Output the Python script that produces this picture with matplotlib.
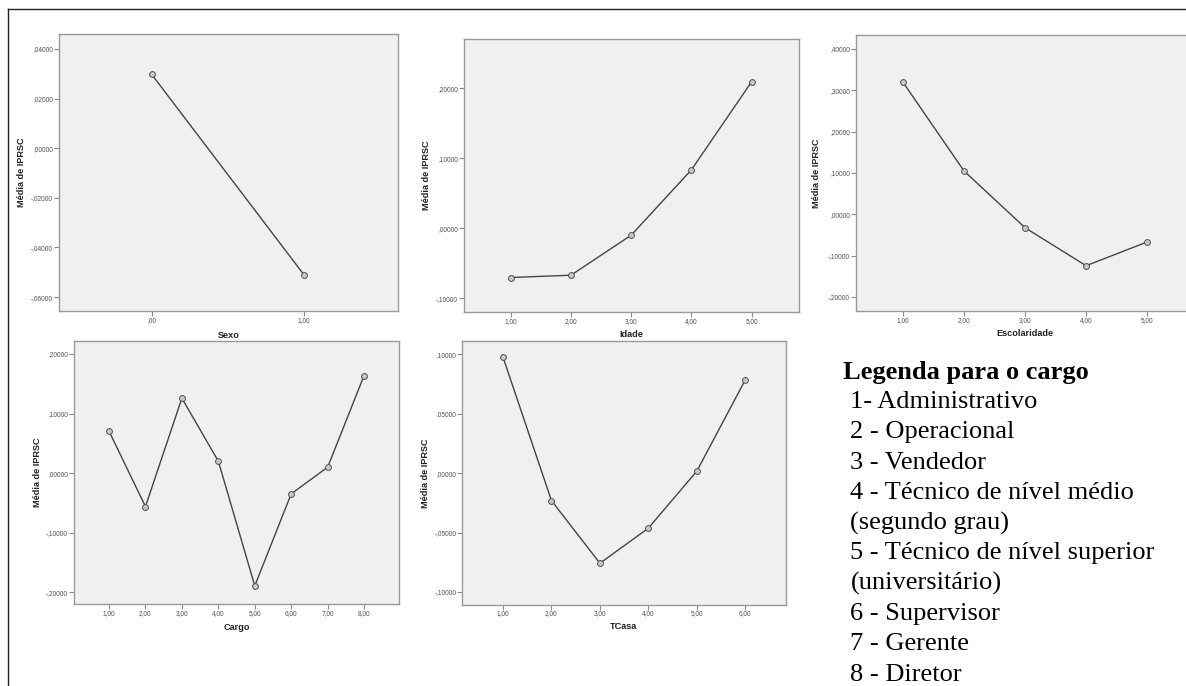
import matplotlib
matplotlib.use("Agg")
import matplotlib.pyplot as plt
from matplotlib.lines import Line2D
from matplotlib.ticker import FuncFormatter

# ---------------- data ----------------
sexo_x = [0, 1]
sexo_y = [0.0297, -0.0509]

idade_x = [1, 2, 3, 4, 5]
idade_y = [-0.0704, -0.0671, -0.0100, 0.0834, 0.2091]

escol_x = [1, 2, 3, 4, 5]
escol_y = [0.3196, 0.1048, -0.0324, -0.1244, -0.0670]

cargo_x = [1, 2, 3, 4, 5, 6, 7, 8]
cargo_y = [0.0705, -0.0560, 0.1258, 0.0201, -0.1891, -0.0347, 0.0100, 0.1638]

tcasa_x = [1, 2, 3, 4, 5, 6]
tcasa_y = [0.0976, -0.0231, -0.0758, -0.0463, 0.0017, 0.0785]

ylabel_text = "Média de IPRSC"
legend_title = "Legenda para o cargo"
legend_lines = [
    "1- Administrativo",
    "2 - Operacional",
    "3 - Vendedor",
    "4 - Técnico de nível médio",
    "(segundo grau)",
    "5 - Técnico de nível superior",
    "(universitário)",
    "6 - Supervisor",
    "7 - Gerente",
    "8 - Diretor",
]

# ---------------- figure ----------------
W, H = 1186, 686
fig = plt.figure(figsize=(W / 100, H / 100), dpi=100)
fig.patch.set_facecolor("white")

SANS = ["Liberation Sans", "DejaVu Sans"]
SERIF = ["Liberation Serif", "DejaVu Serif"]


def fx(px):
    return px / W


def fy(py):
    return 1 - py / H


def yfmt(v, pos):
    s = f"{v:.5f}"
    if s.startswith("-0."):
        s = "-," + s[3:]
    elif s.startswith("0."):
        s = "," + s[2:]
    if s == "-,00000":
        s = ",00000"
    return s


def xfmt(v, pos):
    s = f"{v:.2f}".replace(".", ",")
    if s.startswith("0,"):
        s = s[1:]
    return s


def make_panel(box, xs, ys, xlim, ylim, yticks, xlabel, ylab_x, xlab_pos):
    l, t, r, b = box
    ax = fig.add_axes([fx(l), fy(b), (r - l) / W, (b - t) / H])
    ax.set_facecolor("#f0f0f0")
    for sp in ax.spines.values():
        sp.set_color("#9a9a9a")
        sp.set_linewidth(1.0)
    ax.plot(xs, ys, color="#454545", lw=1.0, marker="o", ms=4.2,
            mfc="#c8c8c8", mec="#505050", mew=0.7, zorder=3)
    ax.set_xlim(*xlim)
    ax.set_ylim(*ylim)
    ax.set_xticks(xs)
    ax.set_yticks(yticks)
    ax.xaxis.set_major_formatter(FuncFormatter(xfmt))
    ax.yaxis.set_major_formatter(FuncFormatter(yfmt))
    ax.tick_params(axis="both", direction="out", length=3.6, width=0.8,
                   color="#8a8a8a", labelsize=4.7, labelcolor="#505050", pad=0.6)
    ax.spines["top"].set_visible(True)
    for lab in ax.get_xticklabels() + ax.get_yticklabels():
        lab.set_family(SANS)
    cy = (t + b) / 2
    fig.text(fx(ylab_x), fy(cy), ylabel_text, rotation=90, ha="center",
             va="center", fontsize=6.6, fontweight="bold", color="#222222",
             family=SANS)
    fig.text(fx(xlab_pos[0]), fy(xlab_pos[1]), xlabel, ha="center",
             va="center", fontsize=6.6, fontweight="bold", color="#222222",
             family=SANS)
    return ax


make_panel((59, 34, 398, 311), sexo_x, sexo_y, (-0.61, 1.62), (-0.0656, 0.046),
           [-0.06, -0.04, -0.02, 0.0, 0.02, 0.04], "Sexo", 21, (228.5, 335))
make_panel((464, 39, 799, 312), idade_x, idade_y, (0.225, 5.785), (-0.1196, 0.27),
           [-0.1, 0.0, 0.1, 0.2], "Idade", 426, (631.5, 334.5))
make_panel((855.7, 34.7, 1195, 311), escol_x, escol_y, (0.225, 5.785), (-0.234, 0.4346),
           [-0.2, -0.1, 0.0, 0.1, 0.2, 0.3, 0.4], "Escolaridade", 816.7, (1025, 334))
make_panel((74, 340.7, 398.7, 604), cargo_x, cargo_y, (0.039, 8.95), (-0.2196, 0.2223),
           [-0.2, -0.1, 0.0, 0.1, 0.2], "Cargo", 37.3, (236.5, 627.5))
make_panel((462.3, 341, 786, 604.7), tcasa_x, tcasa_y, (0.16, 6.84), (-0.1107, 0.1112),
           [-0.1, -0.05, 0.0, 0.05, 0.1], "TCasa", 425, (624, 626.5))

# ---------------- legend text ----------------
fig.text(fx(843), fy(379), legend_title, ha="left", va="baseline",
         fontsize=19, fontweight="bold", color="black", family=SERIF)
for i, line in enumerate(legend_lines):
    fig.text(fx(850.5), fy(408 + 30.3 * i), line, ha="left", va="baseline",
             fontsize=19, color="black", family=SERIF)

# ---------------- outer frame ----------------
fig.add_artist(Line2D([fx(8), fx(W)], [fy(9), fy(9)], color="#222222", lw=1.0))
fig.add_artist(Line2D([fx(8), fx(8)], [fy(9), fy(H)], color="#222222", lw=1.0))

fig.savefig("out.png", dpi=100, facecolor="white")
